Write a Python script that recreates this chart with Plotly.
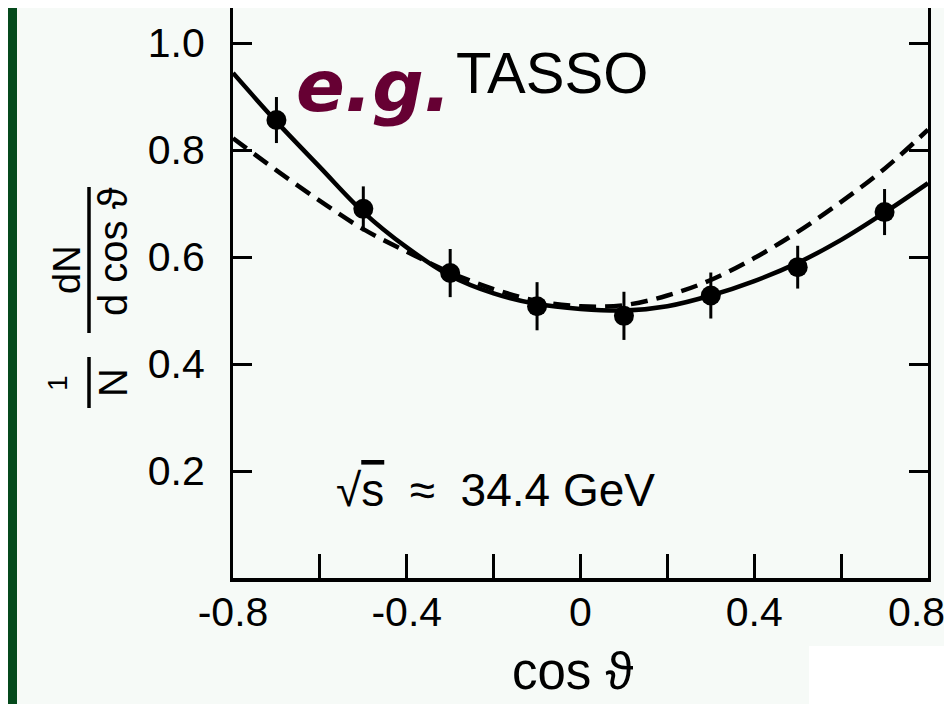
import plotly.graph_objects as go

# ---- data ----
cos_theta = [-0.7, -0.5, -0.3, -0.1, 0.1, 0.3, 0.5, 0.7]
dn_values = [0.856, 0.690, 0.570, 0.508, 0.490, 0.528, 0.581, 0.684]
dn_errors = [0.043, 0.042, 0.045, 0.045, 0.045, 0.043, 0.040, 0.043]

curve_x = [-0.8, -0.7, -0.6, -0.5, -0.4, -0.3, -0.2, -0.1, 0.0,
           0.1, 0.2, 0.3, 0.4, 0.5, 0.6, 0.7, 0.8]
solid_fit = [0.944, 0.853, 0.768, 0.684, 0.618, 0.565, 0.532, 0.512, 0.503,
             0.500, 0.508, 0.528, 0.555, 0.589, 0.632, 0.683, 0.738]
dashed_fit = [0.822, 0.762, 0.705, 0.652, 0.610, 0.571, 0.540, 0.518, 0.508,
              0.510, 0.528, 0.557, 0.598, 0.647, 0.703, 0.765, 0.838]

x_tickvals = [-0.8, -0.6, -0.4, -0.2, 0.0, 0.2, 0.4, 0.6, 0.8]
x_ticktext = ["-0.8", "", "-0.4", "", "0", "", "0.4", "", "0.8\u00a0\u00a0"]
y_tickvals = [0.2, 0.4, 0.6, 0.8, 1.0]
y_ticktext = ["0.2", "0.4", "0.6", "0.8", "1.0"]

# ---- layout helpers: reference pixel -> paper (page has an 8px body margin) ----
OFF = 8
W, H = 944, 696
L, R, T, B = 225, 24, 0, 126
PW, PH = W - L - R, H - T - B


def px(xr):
    return (xr - OFF - L) / PW


def py(yr):
    return (H - B - (yr - OFF)) / PH


PANEL = "#f6faf7"
DARK_GREEN = "#054a1c"
SANS = "Liberation Sans, Arial, sans-serif"

fig = go.Figure()

fig.add_trace(go.Scatter(
    x=curve_x, y=dashed_fit, mode="lines", line_shape="spline",
    line=dict(color="black", width=4.5, dash="17px,9px"),
    hoverinfo="skip"))
fig.add_trace(go.Scatter(
    x=curve_x, y=solid_fit, mode="lines", line_shape="spline",
    line=dict(color="black", width=4.5), hoverinfo="skip"))
fig.add_trace(go.Scatter(
    x=cos_theta, y=dn_values, mode="markers",
    marker=dict(color="black", size=20, symbol="circle"),
    error_y=dict(type="data", array=dn_errors, thickness=3, width=0, color="black")))

shapes = [
    # light panel
    dict(type="rect", xref="paper", yref="paper", x0=px(17), x1=px(947), y0=py(710), y1=py(7),
         fillcolor=PANEL, line_width=0, layer="below"),
    # brighter green right strip
    dict(type="rect", xref="paper", yref="paper", x0=px(947), x1=px(960), y0=py(710), y1=py(0),
         fillcolor="#0f6e14", line_width=0, layer="below"),
    # white patch bottom right
    dict(type="rect", xref="paper", yref="paper", x0=px(809), x1=px(947), y0=py(710), y1=py(646),
         fillcolor="white", line_width=0, layer="below"),
    # fraction bars of y title
    dict(type="line", xref="paper", yref="paper", x0=px(89), x1=px(89), y0=py(408), y1=py(357),
         line=dict(color="black", width=3.5)),
    dict(type="line", xref="paper", yref="paper", x0=px(89), x1=px(89), y0=py(333), y1=py(187),
         line=dict(color="black", width=3.5)),
]


def note(text, xr, yr, size, family=SANS, color="black", angle=0, xanchor="center", **fkw):
    return dict(text=text, xref="paper", yref="paper", x=px(xr), y=py(yr),
                xanchor=xanchor, yanchor="middle", textangle=angle, showarrow=False,
                font=dict(family=family, size=size, color=color, **fkw))


annotations = [
    note("e.g.", 294, 86, 72, family="DejaVu Sans", color="#660033",
         xanchor="left", weight="bold", style="italic"),
    note("TASSO", 454, 72, 58, xanchor="left"),
    note("\u221a<span style='text-decoration:overline'>s</span>\u00a0\u00a0\u2248\u00a0\u00a034.4\u00a0GeV",
         495, 490, 46),
    note("cos \u03d1", 573, 671, 51),
    note("1", 57, 383, 28, angle=-90),
    note("N", 113, 383, 40, angle=-90),
    note("dN", 67, 270, 38, angle=-90),
    note("d\u00a0cos\u00a0\u03d1", 113, 252, 40, angle=-90),
]

fig.update_layout(
    width=W, height=H,
    margin=dict(l=L, r=R, t=T, b=B, pad=0, autoexpand=False),
    paper_bgcolor=DARK_GREEN, plot_bgcolor=PANEL,
    showlegend=False,
    shapes=shapes, annotations=annotations,
    xaxis=dict(range=[-0.8, 0.8], showgrid=False, zeroline=False, automargin=False,
               showline=True, linecolor="black", linewidth=4,
               ticks="inside", ticklen=24, tickwidth=3, tickcolor="black",
               tickvals=x_tickvals, ticktext=x_ticktext,
               tickfont=dict(family=SANS, size=41, color="black"),
               ticklabelstandoff=-5, ticklabeloverflow="allow"),
    yaxis=dict(range=[0, (H - B - T) / 535], showgrid=False, zeroline=False, automargin=False,
               showline=True, linecolor="black", linewidth=3, mirror="ticks",
               ticks="inside", ticklen=19, tickwidth=3, tickcolor="black",
               tickvals=y_tickvals, ticktext=y_ticktext,
               tickfont=dict(family=SANS, size=41, color="black"),
               ticklabelstandoff=17),
)

fig.write_html("out.html")
